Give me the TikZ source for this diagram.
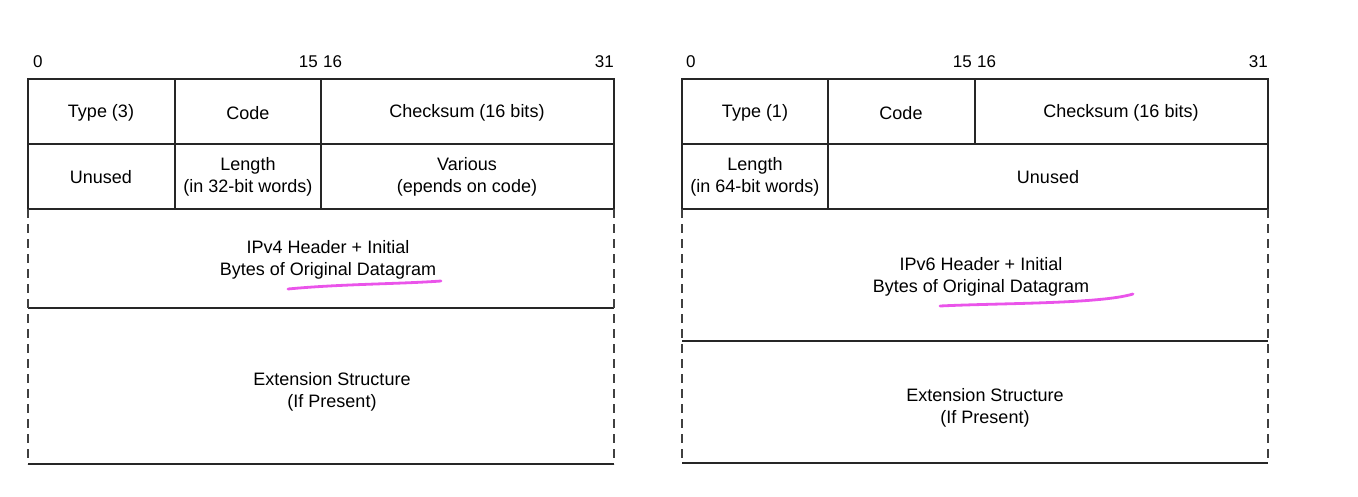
\documentclass[tikz,border=0pt]{standalone}
\usepackage{fontspec}
\setmainfont{Liberation Sans}
\definecolor{hlpink}{RGB}{234,84,234}
\begin{document}
\begin{tikzpicture}[x=1pt,y=-1pt,
  frame/.style={line width=1.2pt, draw=black!85},
  dashside/.style={line width=1.3pt, draw=black!75, dash pattern=on 9pt off 6pt},
  cell/.style={font=\fontsize{18}{22}\selectfont, align=center, inner sep=0pt},
  bitlbl/.style={font=\fontsize{17}{20}\selectfont, inner sep=0pt},
  hilite/.style={line width=2.8pt, draw=hlpink, line cap=round}]
\useasboundingbox (0,0) rectangle (1358,496);
% ---------- left diagram ----------
\node[bitlbl, anchor=west] (l0) at (33,62) {0};
\node[bitlbl, anchor=east] (l15) at (318,62) {15};
\node[bitlbl, anchor=west] (l16) at (323,62) {16};
\node[bitlbl, anchor=east] (l31) at (614,62) {31};
\draw[frame] (28,79) rectangle (614,209);
\draw[frame] (28,144) -- (614,144);
\draw[frame] (175,79) -- (175,209);
\draw[frame] (321,79) -- (321,209);
\draw[frame] (28,308) -- (614,308);
\draw[frame] (28,464) -- (614,464);
\draw[dashside] (28,209) -- (28,464);
\draw[dashside] (614,209) -- (614,464);
\node[cell] (ltype) at (101,113) {Type (3)};
\node[cell] (lcode) at (248,113) {Code};
\node[cell] (lsum) at (467,113) {Checksum (16 bits)};
\node[cell] (lunused) at (101,177) {Unused};
\node[cell] (llen) at (248,177) {Length\\(in 32-bit words)};
\node[cell] (lvar) at (467,177) {Various\\(epends on code)};
\node[cell] (lhdr) at (328,260) {IPv4 Header + Initial\\Bytes of Original Datagram};
\node[cell] (lext) at (332,392) {Extension Structure\\(If Present)};
\draw[hilite] (288,289) .. controls (340,284) and (400,284) .. (441,281);
% ---------- right diagram ----------
\node[bitlbl, anchor=west] (r0) at (686,62) {0};
\node[bitlbl, anchor=east] (r15) at (972,62) {15};
\node[bitlbl, anchor=west] (r16) at (977,62) {16};
\node[bitlbl, anchor=east] (r31) at (1268,62) {31};
\draw[frame] (682,79) rectangle (1268,209);
\draw[frame] (682,144) -- (1268,144);
\draw[frame] (828,79) -- (828,209);
\draw[frame] (975,79) -- (975,144);
\draw[frame] (682,341) -- (1268,341);
\draw[frame] (682,463) -- (1268,463);
\draw[dashside] (682,209) -- (682,463);
\draw[dashside] (1268,209) -- (1268,463);
\node[cell] (rtype) at (755,113) {Type (1)};
\node[cell] (rcode) at (901,113) {Code};
\node[cell] (rsum) at (1121,113) {Checksum (16 bits)};
\node[cell] (rlen) at (755,177) {Length\\(in 64-bit words)};
\node[cell] (runused) at (1048,177) {Unused};
\node[cell] (rhdr) at (981,277) {IPv6 Header + Initial\\Bytes of Original Datagram};
\node[cell] (rext) at (985,408) {Extension Structure\\(If Present)};
\draw[hilite] (940,306) .. controls (1000,303) and (1100,304) .. (1133,294);
\end{tikzpicture}
\end{document}
